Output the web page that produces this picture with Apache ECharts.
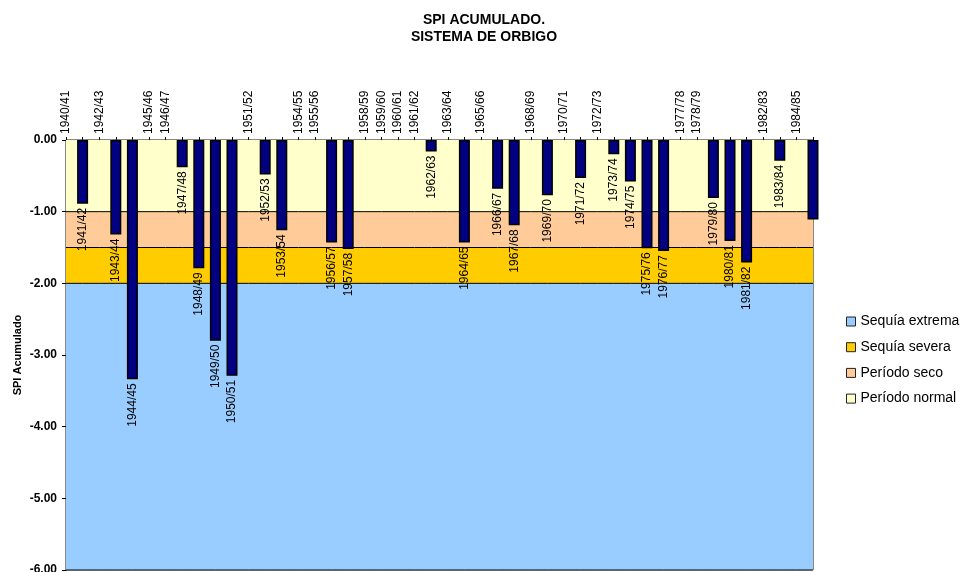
<!DOCTYPE html>
<html>
<head>
<meta charset="utf-8">
<script src="https://cdn.jsdelivr.net/npm/echarts@6/dist/echarts.min.js"></script>
<style>
  html, body { margin: 0; padding: 0; background: #fff; }
  #chart { width: 962px; height: 572px; }
</style>
</head>
<body>
<div id="chart"></div>
<script>
// Hydrological years
const categories = [
  '1940/41','1941/42','1942/43','1943/44','1944/45','1945/46','1946/47','1947/48',
  '1948/49','1949/50','1950/51','1951/52','1952/53','1953/54','1954/55','1955/56',
  '1956/57','1957/58','1958/59','1959/60','1960/61','1961/62','1962/63','1963/64',
  '1964/65','1965/66','1966/67','1967/68','1968/69','1969/70','1970/71','1971/72',
  '1972/73','1973/74','1974/75','1975/76','1976/77','1977/78','1978/79','1979/80',
  '1980/81','1981/82','1982/83','1983/84','1984/85','1985/86'
];

// Accumulated SPI per year (positive years sit above the 0.00 ceiling of the axis)
const spi = [
   0.42, -0.89,  0.35, -1.32, -3.34,  0.60,  0.25, -0.38,
  -1.79, -2.80, -3.29,  0.80, -0.48, -1.26,  0.50,  0.30,
  -1.43, -1.52,  0.90,  1.20,  1.40,  0.70, -0.16,  0.55,
  -1.43,  0.65, -0.68, -1.19,  0.40, -0.77,  0.35, -0.53,
   0.60, -0.20, -0.58, -1.51, -1.55,  0.70,  0.45, -0.81,
  -1.41, -1.71,  0.30, -0.29,  0.50, -1.11
];

// Drought classes, stacked downward from 0
const bandNames  = ['Período normal', 'Período seco', 'Sequía severa', 'Sequía extrema'];
const bandDepths = [-1, -0.5, -0.5, -4];
const bandColors = ['#FFFFCC', '#FFCC99', '#FFCC00', '#99CCFF'];
const legendOrder = ['Sequía extrema', 'Sequía severa', 'Período seco', 'Período normal'];

// Y axis range and step
const yMin = -6, yMax = 0, yStep = 1;

const FONT = "'Liberation Sans', Arial, sans-serif";
const lastIndex = categories.length - 1;

const bandSeries = bandNames.map((name, i) => ({
  name: name,
  type: 'line',
  stack: 'bands',
  data: categories.map(() => bandDepths[i]),
  symbol: 'none',
  silent: true,
  z: 1,
  lineStyle: { color: '#000', width: 1 },
  itemStyle: { color: bandColors[i] },
  areaStyle: { color: bandColors[i], opacity: 1 },
  emphasis: { disabled: true }
}));

const chart = echarts.init(document.getElementById('chart'), null, { renderer: 'canvas' });

chart.setOption({
  animation: false,
  backgroundColor: '#fff',
  textStyle: { fontFamily: FONT },
  title: {
    text: 'SPI ACUMULADO.\nSISTEMA DE ORBIGO',
    left: 479,
    top: 7,
    textAlign: 'center',
    textStyle: { fontFamily: FONT, fontSize: 14, fontWeight: 'bold', color: '#000', lineHeight: 16.5 }
  },
  legend: {
    orient: 'vertical',
    left: 841,
    top: 308,
    itemWidth: 9,
    itemHeight: 9,
    itemGap: 8.7,
    selectedMode: false,
    textStyle: { fontFamily: FONT, fontSize: 14, color: '#000', lineHeight: 17 },
    data: legendOrder.map(n => ({
      name: n,
      icon: 'rect',
      itemStyle: { color: bandColors[bandNames.indexOf(n)], borderColor: '#222', borderWidth: 1 }
    }))
  },
  grid: {
    left: 66, top: 140, right: 149, bottom: 2,
    outerBoundsMode: 'none',
    containLabel: false,
    show: true, borderColor: '#111', borderWidth: 1, backgroundColor: 'transparent'
  },
  xAxis: {
    type: 'category',
    data: categories,
    position: 'top',
    boundaryGap: false,
    axisLine: { show: true, lineStyle: { color: '#000', width: 1 } },
    axisTick: { show: true, length: 3, interval: 0, lineStyle: { color: '#000' } },
    axisLabel: {
      interval: 0,
      rotate: 90,
      margin: 6,
      fontFamily: FONT,
      fontSize: 12,
      color: '#000',
      formatter: (value, idx) => (spi[idx] > 0 ? value : '')
    },
    splitLine: { show: false }
  },
  yAxis: {
    type: 'value',
    min: yMin,
    max: yMax,
    interval: yStep,
    name: 'SPI Acumulado',
    nameLocation: 'middle',
    nameRotate: 90,
    nameGap: 43,
    nameMoveOverlap: false,
    nameTextStyle: { fontFamily: FONT, fontSize: 11, fontWeight: 'bold', color: '#000' },
    axisLine: { show: true, lineStyle: { color: '#000', width: 1 } },
    axisTick: { show: true, length: 4, lineStyle: { color: '#000' } },
    axisLabel: {
      margin: 9,
      fontFamily: FONT,
      fontSize: 12,
      fontWeight: 'bold',
      color: '#000',
      formatter: v => v.toFixed(2)
    },
    splitLine: { show: false }
  },
  series: bandSeries.concat([{
    name: 'SPI',
    type: 'bar',
    data: spi,
    barWidth: 11,
    clip: true,
    z: 5,
    itemStyle: { color: '#000080', borderColor: '#000', borderWidth: 1.5 },
    emphasis: { disabled: true },
    label: {
      show: true,
      position: 'bottom',
      distance: 4,
      rotate: 90,
      align: 'right',
      verticalAlign: 'middle',
      fontFamily: FONT,
      fontSize: 12,
      color: '#000',
      formatter: p => (p.value < 0 && p.dataIndex !== lastIndex ? p.name : '')
    }
  }])
});
</script>
</body>
</html>
